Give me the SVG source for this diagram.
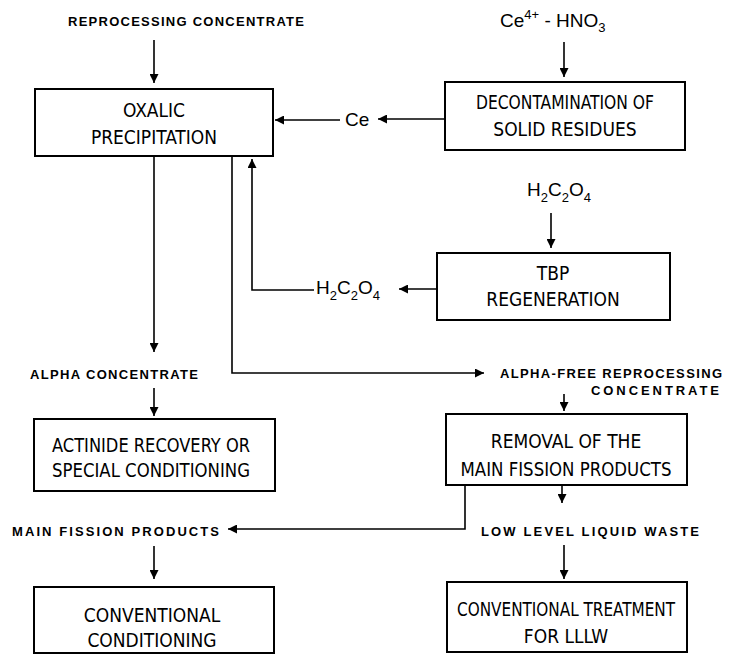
<svg xmlns="http://www.w3.org/2000/svg" width="741" height="655" viewBox="0 0 741 655">
<style>
.box{fill:#fff;stroke:#000;stroke-width:2}
.bt{font-family:"DejaVu Sans Condensed","Liberation Sans",sans-serif;font-size:19px;text-anchor:middle;fill:#000}
.lb{font-family:"Liberation Sans",sans-serif;font-size:13px;font-weight:bold;fill:#000}
.ch{font-family:"Liberation Sans",sans-serif;font-size:19px;fill:#000}
.sub{font-size:13px}
.ln{fill:none;stroke:#000;stroke-width:1.6}
</style>
<defs>
<marker id="ah" viewBox="0 0 10 10" refX="10" refY="5" markerWidth="9" markerHeight="9" markerUnits="userSpaceOnUse" orient="auto">
<path d="M0,0 L10,5 L0,10 z" fill="#000"/>
</marker>
</defs>
<rect width="741" height="655" fill="#fff"/>
<g id="connectors">
<path class="ln" d="M154,40 V83" marker-end="url(#ah)"/>
<path class="ln" d="M564,42 V77" marker-end="url(#ah)"/>
<path class="ln" d="M444,119 H378" marker-end="url(#ah)"/>
<path class="ln" d="M340,120 H275" marker-end="url(#ah)"/>
<path class="ln" d="M551,213 V248" marker-end="url(#ah)"/>
<path class="ln" d="M437,289 H399" marker-end="url(#ah)"/>
<path class="ln" d="M314,290 H252 V159" marker-end="url(#ah)"/>
<path class="ln" d="M154,156 V352" marker-end="url(#ah)"/>
<path class="ln" d="M232,156 V373 H484" marker-end="url(#ah)"/>
<path class="ln" d="M154,388 V416" marker-end="url(#ah)"/>
<path class="ln" d="M564,394 V411" marker-end="url(#ah)"/>
<path class="ln" d="M465,485 V529 H228" marker-end="url(#ah)"/>
<path class="ln" d="M562,486 V503" marker-end="url(#ah)"/>
<path class="ln" d="M154,546 V579" marker-end="url(#ah)"/>
<path class="ln" d="M564,545 V579" marker-end="url(#ah)"/>
</g>
<g id="labels">
<text class="lb" x="68" y="26" textLength="236" lengthAdjust="spacing">REPROCESSING CONCENTRATE</text>
<text class="ch" x="500" y="27">Ce<tspan class="sub" dy="-8">4+</tspan><tspan dy="8"> - HNO</tspan><tspan class="sub" dy="5">3</tspan></text>
<text class="ch" x="345" y="126">Ce</text>
<text class="ch" x="527" y="196">H<tspan class="sub" dy="6">2</tspan><tspan dy="-6">C</tspan><tspan class="sub" dy="6">2</tspan><tspan dy="-6">O</tspan><tspan class="sub" dy="6">4</tspan></text>
<text class="ch" x="316" y="294">H<tspan class="sub" dy="6">2</tspan><tspan dy="-6">C</tspan><tspan class="sub" dy="6">2</tspan><tspan dy="-6">O</tspan><tspan class="sub" dy="6">4</tspan></text>
<text class="lb" x="30" y="379" textLength="168" lengthAdjust="spacing">ALPHA CONCENTRATE</text>
<text class="lb" x="500" y="378" textLength="222" lengthAdjust="spacing">ALPHA-FREE REPROCESSING</text>
<text class="lb" x="591" y="395" textLength="128" lengthAdjust="spacing">CONCENTRATE</text>
<text class="lb" x="12" y="536" textLength="207" lengthAdjust="spacing">MAIN FISSION PRODUCTS</text>
<text class="lb" x="481" y="536" textLength="218" lengthAdjust="spacing">LOW LEVEL LIQUID WASTE</text>
</g>
<g id="oxalic">
<rect class="box" x="35" y="89" width="238" height="67"/>
<text class="bt" x="154" y="117">OXALIC</text>
<text class="bt" x="154" y="144">PRECIPITATION</text>
</g>
<g id="decontamination">
<rect class="box" x="445" y="82" width="240" height="68"/>
<text class="bt" x="565" y="109" textLength="178" lengthAdjust="spacingAndGlyphs">DECONTAMINATION OF</text>
<text class="bt" x="565" y="136">SOLID RESIDUES</text>
</g>
<g id="tbp">
<rect class="box" x="437" y="253" width="233" height="67"/>
<text class="bt" x="553" y="280">TBP</text>
<text class="bt" x="553" y="306">REGENERATION</text>
</g>
<g id="actinide">
<rect class="box" x="34" y="419" width="241" height="72"/>
<text class="bt" x="151" y="452" textLength="198" lengthAdjust="spacingAndGlyphs">ACTINIDE RECOVERY OR</text>
<text class="bt" x="151" y="477" textLength="198" lengthAdjust="spacingAndGlyphs">SPECIAL CONDITIONING</text>
</g>
<g id="removal">
<rect class="box" x="446" y="414" width="241" height="71"/>
<text class="bt" x="566" y="448">REMOVAL OF THE</text>
<text class="bt" x="566" y="476" textLength="211" lengthAdjust="spacingAndGlyphs">MAIN FISSION PRODUCTS</text>
</g>
<g id="conventional-conditioning">
<rect class="box" x="34" y="587" width="240" height="66"/>
<text class="bt" x="152" y="622">CONVENTIONAL</text>
<text class="bt" x="152" y="647">CONDITIONING</text>
</g>
<g id="conventional-treatment">
<rect class="box" x="447" y="582" width="240" height="70"/>
<text class="bt" x="566" y="616" textLength="218" lengthAdjust="spacingAndGlyphs">CONVENTIONAL TREATMENT</text>
<text class="bt" x="566" y="643">FOR LLLW</text>
</g>
</svg>
